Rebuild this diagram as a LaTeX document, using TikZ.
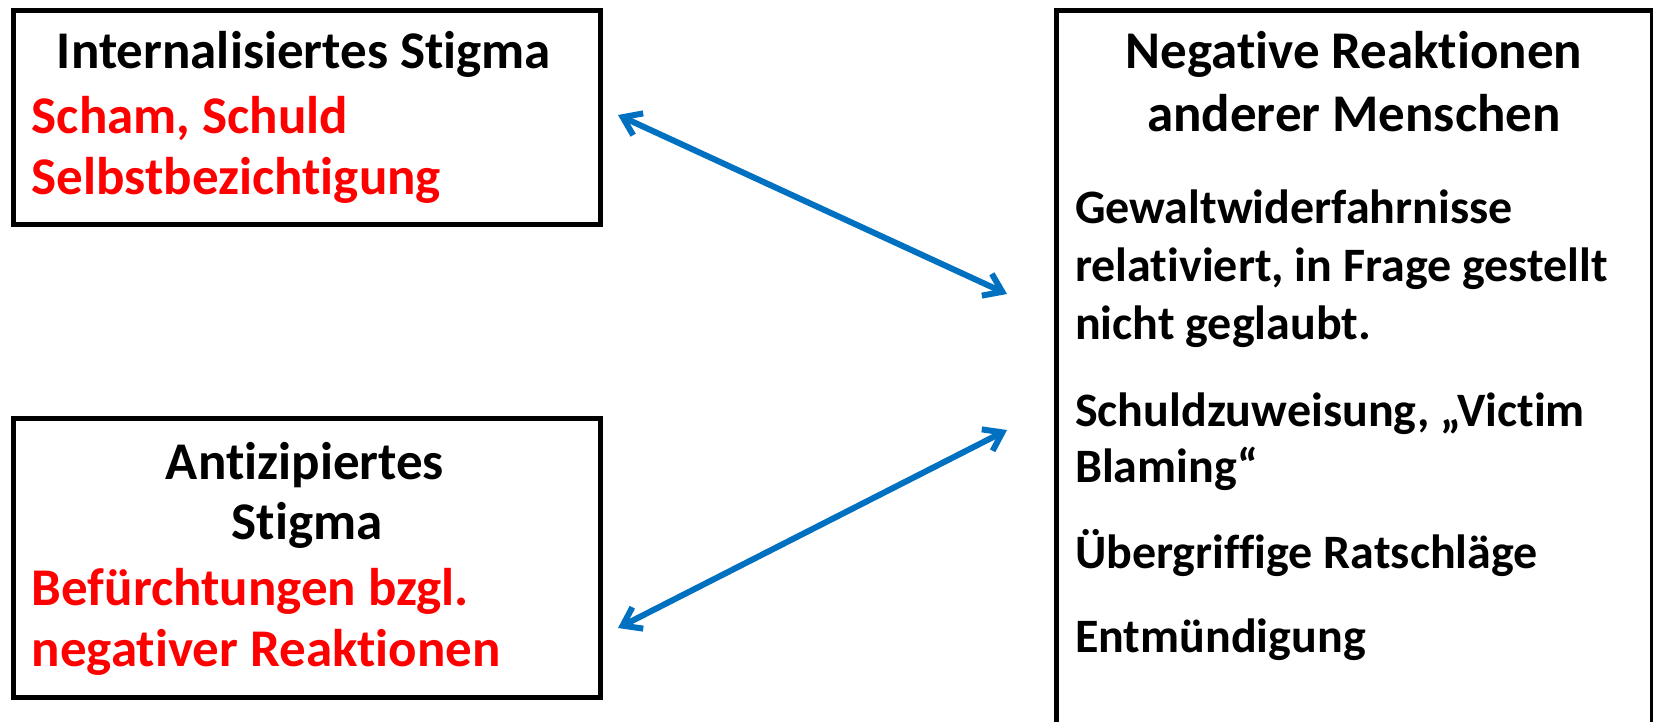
\documentclass[tikz,border=0pt]{standalone}
\usepackage{fontspec}
\setmainfont{Carlito}[Ligatures=NoCommon]
\usetikzlibrary{arrows.meta}
\definecolor{arrblue}{RGB}{0,112,192}
\definecolor{txtred}{RGB}{255,0,0}
\begin{document}
\begin{tikzpicture}[x=1pt,y=-1pt,
  box/.style={draw=black, line width=5pt, inner sep=0pt},
  big/.style={font=\fontsize{53}{60}\selectfont\bfseries, inner sep=0pt},
  body/.style={font=\fontsize{48}{56}\selectfont\bfseries, inner sep=0pt, anchor=base west},
  ttl/.style={big, anchor=base},
  red/.style={big, anchor=base west, text=txtred},
  conn/.style={draw=arrblue, line width=6pt, line cap=round,
    {Straight Barb[length=17pt,width=24pt]}-{Straight Barb[length=17pt,width=24pt]}}]
\useasboundingbox (0,0) rectangle (1653,721);
\clip (0,0) rectangle (1653,721);
\fill[white] (0,0) rectangle (1653,721);
% boxes
\node[box, anchor=north west, minimum width=587pt, minimum height=214pt] (b1) at (10.5,8.4) {};
\node[box, anchor=north west, minimum width=587pt, minimum height=279pt] (b2) at (10.5,416.4) {};
\node[box, anchor=north west, minimum width=596pt, minimum height=740pt] (b3) at (1054,8.4) {};
% box 1 text
\node[ttl] (t1) at (304,68) {Internalisiertes Stigma};
\node[red] (r1a) at (31.6,133.5) {Scham, Schuld};
\node[red] (r1b) at (31.6,194.5) {Selbstbezichtigung};
% box 2 text
\node[ttl] (t2a) at (305,479) {Antizipiertes};
\node[ttl] (t2b) at (307,539) {Stigma};
\node[red] (r2a) at (31.6,605.5) {Befürchtungen bzgl.};
\node[red] (r2b) at (31.6,666.5) {negativer Reaktionen};
% box 3 text
\node[ttl] (t3a) at (1354,68) {Negative Reaktionen};
\node[ttl] (t3b) at (1354,131.5) {anderer Menschen};
\node[body] (l1) at (1075,223.5) {Gewaltwiderfahrnisse};
\node[body] (l2) at (1075,281.5) {relativiert, in Frage gestellt};
\node[body] (l3) at (1075,339.5) {nicht geglaubt.};
\node[body] (l4) at (1075,426) {Schuldzuweisung, „Victim};
\node[body] (l5) at (1075,482) {Blaming“};
\node[body] (l6) at (1075,568.5) {Übergriffige Ratschläge};
\node[body] (l7) at (1075,652.5) {Entmündigung};
% arrows
\coordinate (a1s) at (618,115);
\coordinate (a1e) at (1007,294);
\coordinate (a2s) at (618,628);
\coordinate (a2e) at (1007,430);
\draw[conn] (a1s) -- (a1e);
\draw[conn] (a2s) -- (a2e);
\end{tikzpicture}
\end{document}
